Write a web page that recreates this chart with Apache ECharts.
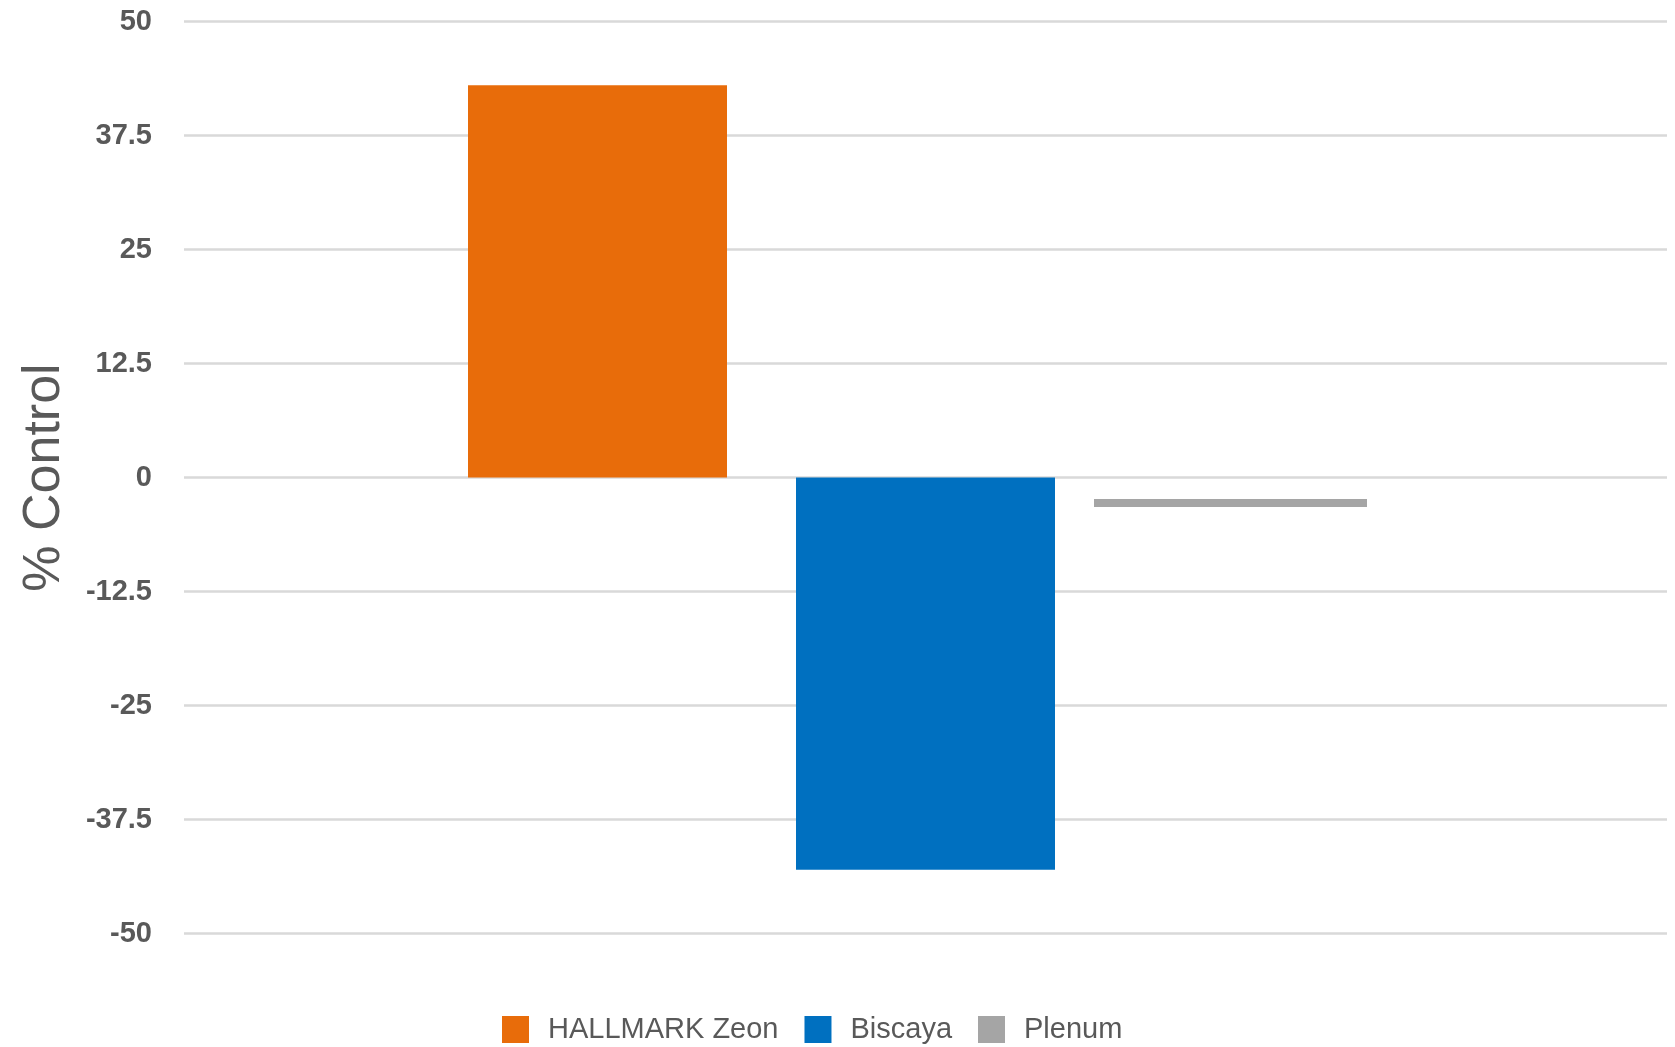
<!DOCTYPE html>
<html>
<head>
<meta charset="utf-8">
<script src="https://cdn.jsdelivr.net/npm/echarts@6/dist/echarts.min.js"></script>
<style>
  html, body { margin: 0; padding: 0; background: #fff; }
  #chart { width: 1675px; height: 1047px; }
</style>
</head>
<body>
<div id="chart"></div>
<script>
const categories = ['Treatment'];
const seriesNames = ['HALLMARK Zeon', 'Biscaya', 'Plenum'];
const hallmarkValues = [43];
const biscayaValues = [-43];
const plenumValues = [-2.8];
const yTicks = [-50, -37.5, -25, -12.5, 0, 12.5, 25, 37.5, 50];

const colors = ['#e86c0a', '#0070c0', '#a5a5a5'];
const textColor = '#595959';

// each series sits at its own offset from the category centre
function barRenderer(offset, width, thick) {
  return function (params, api) {
    const cat = api.value(0);
    const top = api.coord([cat, api.value(1)]);
    const base = api.coord([cat, 0]);
    let y0, h;
    if (thick) {
      y0 = top[1] - thick / 2;
      h = thick;
    } else {
      y0 = Math.min(top[1], base[1]);
      h = Math.abs(top[1] - base[1]);
    }
    return {
      type: 'rect',
      shape: { x: top[0] + offset - width / 2, y: y0, width: width, height: h },
      style: { fill: api.visual('color') }
    };
  };
}

function toData(values) {
  return values.map((v, i) => [categories[i], v]);
}

const chart = echarts.init(document.getElementById('chart'));
chart.setOption({
  animation: false,
  backgroundColor: '#ffffff',
  grid: { left: 184, right: 8, top: 21.5, bottom: 113.5 },
  legend: {
    data: seriesNames,
    left: 497,
    top: 1010,
    icon: 'rect',
    itemWidth: 27,
    itemHeight: 27,
    itemGap: 26,
    textStyle: {
      color: textColor,
      fontSize: 29,
      fontFamily: 'Liberation Sans, Arial, sans-serif',
      padding: [0, 0, 0, 14]
    }
  },
  xAxis: {
    type: 'category',
    data: categories,
    axisLine: { show: false },
    axisTick: { show: false },
    axisLabel: { show: false },
    splitLine: { show: false }
  },
  yAxis: {
    type: 'value',
    min: yTicks[0],
    max: yTicks[yTicks.length - 1],
    interval: 12.5,
    name: '% Control',
    nameLocation: 'middle',
    nameGap: 113,
    nameRotate: 90,
    nameTextStyle: {
      color: textColor,
      fontSize: 52,
      fontFamily: 'Liberation Sans, Arial, sans-serif'
    },
    axisLine: { show: false },
    axisTick: { show: false },
    axisLabel: {
      color: textColor,
      fontSize: 29,
      fontWeight: 'bold',
      fontFamily: 'Liberation Sans, Arial, sans-serif',
      margin: 32
    },
    splitLine: { lineStyle: { color: '#d9d9d9', width: 2.5 } }
  },
  series: [
    {
      name: seriesNames[0],
      type: 'custom',
      itemStyle: { color: colors[0] },
      renderItem: barRenderer(-328, 259),
      data: toData(hallmarkValues)
    },
    {
      name: seriesNames[1],
      type: 'custom',
      itemStyle: { color: colors[1] },
      renderItem: barRenderer(0, 259),
      data: toData(biscayaValues)
    },
    {
      name: seriesNames[2],
      type: 'custom',
      itemStyle: { color: colors[2] },
      renderItem: barRenderer(305, 273, 8),
      data: toData(plenumValues)
    }
  ]
});
</script>
</body>
</html>
